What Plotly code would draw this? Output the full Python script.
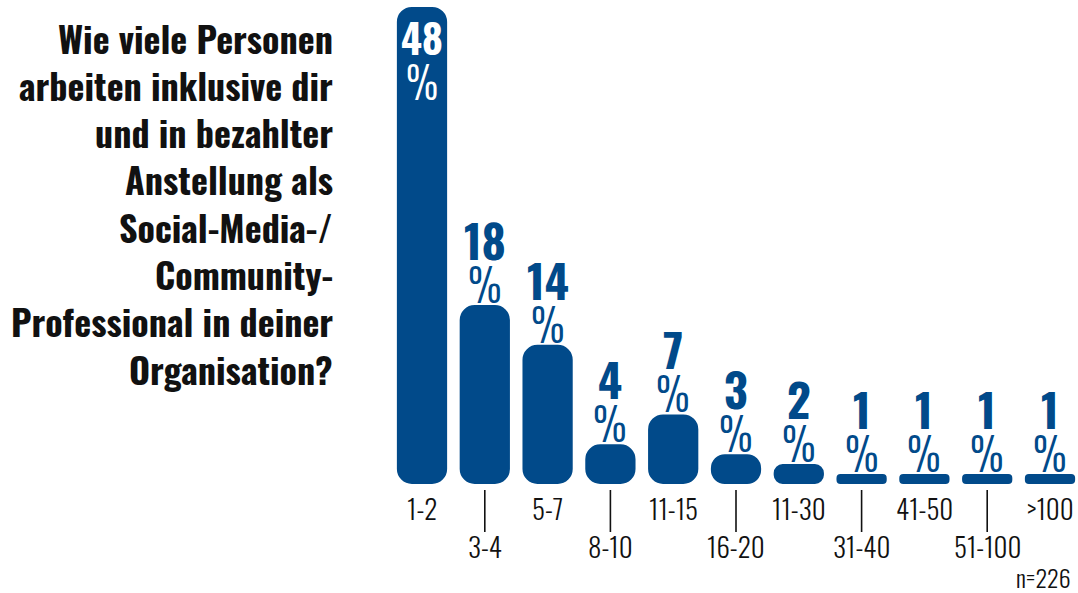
import plotly.graph_objects as go

# Survey results: team size of paid social media / community professionals
categories = ["1-2", "3-4", "5-7", "8-10", "11-15", "16-20", "11-30", "31-40", "41-50", "51-100", ">100"]
shares = [48, 18, 14, 4, 7, 3, 2, 1, 1, 1, 1]
title_lines = [
    "Wie viele Personen",
    "arbeiten inklusive dir",
    "und in bezahlter",
    "Anstellung als",
    "Social-Media-/",
    "Community-",
    "Professional in deiner",
    "Organisation?",
]
sample_note = "n=226"

BLUE = "#014a8a"
INK = "#111111"
FONT = "Oswald, Roboto Condensed, sans-serif"
W, H = 1078, 593

# pixel geometry of the plotting area (y axis spans the full figure height)
PX_PER_UNIT = 9.94
ZERO_PX = 484
y_top = ZERO_PX / PX_PER_UNIT
y_bottom = -(H - ZERO_PX) / PX_PER_UNIT
STEP_PX = 62.8
FIRST_PX = 422
x_lo = -FIRST_PX / STEP_PX
x_hi = x_lo + W / STEP_PX


def px_to_y(offset_px):
    """Offset below the zero line, in pixels, expressed in y data units."""
    return -offset_px / PX_PER_UNIT


fig = go.Figure()
# an explicit base makes plotly round both ends of each bar
fig.add_trace(go.Bar(x=categories, y=shares, base=[0] * len(shares),
                     marker=dict(color=BLUE, cornerradius=15, line=dict(width=0)), hoverinfo="skip"))

# connector ticks for the staggered (lower) category labels
tx, ty = [], []
for i, c in enumerate(categories):
    if i % 2 == 1:
        tx += [c, c, None]
        ty += [px_to_y(6), px_to_y(48), None]
fig.add_trace(go.Scatter(x=tx, y=ty, mode="lines", line=dict(color=INK, width=1.6), hoverinfo="skip"))

annotations = []
vmax = max(shares)
for i, (c, v) in enumerate(zip(categories, shares)):
    inside = v == vmax
    col = "white" if inside else BLUE
    if inside:
        annotations.append(dict(x=c, y=v, text=f"<b>{v}</b>", showarrow=False, yanchor="middle", yshift=-30,
                                font=dict(family=FONT, size=40, color=col)))
        annotations.append(dict(x=c, y=v, text="%", showarrow=False, yanchor="middle", yshift=-74,
                                font=dict(family=FONT, size=44, color=col, weight=300)))
    else:
        annotations.append(dict(x=c, y=v, text=f"<b>{v}</b>", showarrow=False, yanchor="middle", yshift=66,
                                font=dict(family=FONT, size=46, color=col)))
        annotations.append(dict(x=c, y=v, text="%", showarrow=False, yanchor="middle", yshift=23,
                                font=dict(family=FONT, size=46, color=col, weight=300)))
    label_off = 24 if i % 2 == 0 else 62
    annotations.append(dict(x=c, y=px_to_y(label_off), text=c, showarrow=False, yanchor="middle",
                            font=dict(family=FONT, size=27, color=INK, weight=300)))

for k, line in enumerate(title_lines):
    baseline = 52 + 47.3 * k
    annotations.append(dict(xref="paper", yref="paper", x=335 / W, y=1 - (baseline - 15) / H, text=f"<b>{line}</b>",
                            showarrow=False, xanchor="right", yanchor="middle",
                            font=dict(family=FONT, size=36, color=INK)))

annotations.append(dict(xref="paper", yref="paper", x=1073 / W, y=1 - 577 / H, text=sample_note, showarrow=False,
                        xanchor="right", yanchor="middle", font=dict(family=FONT, size=24, color=INK, weight=300)))

fig.update_layout(
    width=W, height=H,
    margin=dict(l=0, r=0, t=0, b=0),
    paper_bgcolor="white", plot_bgcolor="white",
    bargap=0.2,
    showlegend=False,
    xaxis=dict(range=[x_lo, x_hi], visible=False, type="category"),
    yaxis=dict(range=[y_bottom, y_top], visible=False),
    annotations=annotations,
)

fig.write_html("out.html")
